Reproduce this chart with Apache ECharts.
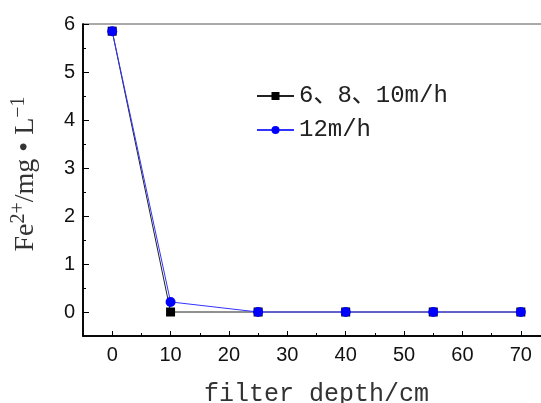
<!DOCTYPE html>
<html>
<head>
<meta charset="utf-8">
<script src="https://cdn.jsdelivr.net/npm/echarts@6/dist/echarts.min.js"></script>
<style>
  html, body { margin: 0; padding: 0; background: #fff; }
  #chart { width: 541px; height: 403px; }
</style>
</head>
<body>
<div id="chart"></div>
<script>
// filter depth (cm)
const depth = [0, 10, 25, 40, 55, 70];
// Fe2+ concentration, mg/L
const fe_6_8_10 = [5.85, 0, 0, 0, 0, 0];
const fe_12 = [5.85, 0.21, 0, 0, 0, 0];
const seriesNames = ['6、8、10m/h', '12m/h'];
const xMajor = [0, 10, 20, 30, 40, 50, 60, 70];
const xMinor = [5, 15, 25, 35, 45, 55, 65];
const yMajor = [0, 1, 2, 3, 4, 5, 6];
const yMinor = [0.5, 1.5, 2.5, 3.5, 4.5, 5.5];

const serif = '"Liberation Serif", "Noto Sans CJK SC", serif';
const mono = '"Liberation Mono", "Noto Sans CJK SC", monospace';
const sans = '"Liberation Sans", Arial, sans-serif';

// grid box: plot runs a bit past the right edge, like the original crop
const gLeft = 83, gTop = 24, gRight = -9, gBottom = 67;
const gWidth = 541 - gLeft - gRight;
const gHeight = 403 - gTop - gBottom;

let chart = echarts.init(document.getElementById('chart'));

function pairs(xs, ys) {
  return xs.map((x, i) => [x, ys[i]]);
}

chart.setOption({
  animation: false,
  grid: {
    left: gLeft, top: gTop, right: gRight, bottom: gBottom,
    outerBoundsMode: 'none',
    containLabel: false,
    show: true, borderColor: '#555', borderWidth: 1
  },
  legend: {
    orient: 'vertical',
    left: 251, top: 79,
    itemWidth: 37, itemHeight: 10, itemGap: 10,
    textStyle: { fontFamily: mono, fontSize: 24, color: '#222' },
    data: seriesNames
  },
  xAxis: [
    {
      type: 'value', min: -5, max: 75, interval: 5,
      name: 'filter depth/cm', nameLocation: 'middle', nameGap: 46,
      nameTextStyle: { fontFamily: mono, fontSize: 25, color: '#333' },
      axisLine: { show: true, onZero: false, lineStyle: { color: '#000', width: 1.5 } },
      axisTick: { show: true, inside: true, length: 5, customValues: xMajor, lineStyle: { color: '#000' } },
      axisLabel: { customValues: xMajor, margin: 9, fontFamily: sans, fontSize: 20, color: '#111' },
      splitLine: { show: false }
    },
    {
      // minor ticks: this axis lands on top, pushed down onto the bottom edge
      type: 'value', min: -5, max: 75, position: 'top', offset: -gHeight,
      axisLine: { show: true, onZero: false, lineStyle: { color: '#000', width: 1.5 } },
      axisTick: { show: true, inside: false, length: 3, customValues: xMinor, lineStyle: { color: '#000' } },
      axisLabel: { show: false },
      splitLine: { show: false }
    }
  ],
  yAxis: [
    {
      type: 'value', min: -0.5, max: 6, interval: 0.5,
      name: '{a|Fe}{b|2+}{a|/mg • L}{b|−1}',
      nameLocation: 'middle', nameGap: 40, nameRotate: 90,
      nameTextStyle: {
        fontFamily: serif, fontSize: 28, color: '#333',
        padding: [0, 0, 0, 12],
        rich: {
          a: { fontFamily: serif, fontSize: 28, color: '#333' },
          b: { fontFamily: serif, fontSize: 20, color: '#333', padding: [0, 0, 14, 0] }
        }
      },
      axisLine: { show: true, onZero: false, lineStyle: { color: '#000', width: 1.5 } },
      axisTick: { show: true, inside: true, length: 6, customValues: yMajor, lineStyle: { color: '#000' } },
      axisLabel: { customValues: yMajor, margin: 8, fontFamily: sans, fontSize: 20, color: '#111' },
      splitLine: { show: false }
    },
    {
      // minor ticks: lands on the right, pushed back onto the left edge
      type: 'value', min: -0.5, max: 6, position: 'right', offset: -gWidth,
      axisLine: { show: true, onZero: false, lineStyle: { color: '#000', width: 1.5 } },
      axisTick: { show: true, inside: false, length: 3, customValues: yMinor, lineStyle: { color: '#000' } },
      axisLabel: { show: false },
      splitLine: { show: false }
    }
  ],
  series: [
    {
      name: seriesNames[0], type: 'line',
      data: pairs(depth, fe_6_8_10),
      symbol: 'rect', symbolSize: 9,
      itemStyle: { color: '#000' },
      lineStyle: { color: '#222', width: 1 }
    },
    {
      name: seriesNames[1], type: 'line',
      data: pairs(depth, fe_12),
      symbol: 'circle', symbolSize: 10,
      itemStyle: { color: '#0000ff' },
      lineStyle: { color: '#3333ff', width: 1 }
    }
  ]
});
</script>
</body>
</html>
